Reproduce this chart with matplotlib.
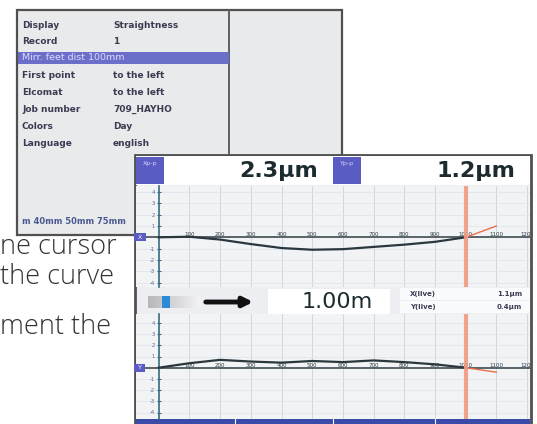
import numpy as np
import matplotlib.pyplot as plt
from matplotlib.patches import Rectangle

# Measured profile, position along the beam (mm) vs deviation (um)
pos_mm = [0, 100, 200, 300, 400, 500, 600, 700, 800, 900, 1000]
x_dev = [0, 0.05, -0.2, -0.6, -0.95, -1.1, -1.05, -0.85, -0.65, -0.4, 0]
y_dev = [0, 0.4, 0.7, 0.55, 0.45, 0.6, 0.5, 0.65, 0.5, 0.3, 0]
ext_mm = [1000, 1100]
x_ext = [0, 1.0]
y_ext = [0, -0.4]
cursor_mm = 1000
x_ticks = [100, 200, 300, 400, 500, 600, 700, 800, 900, 1000, 1100, 1200]
y_ticks = [-4, -3, -2, -1, 1, 2, 3, 4]

menu_labels = ['Display', 'Record', '', 'First point', 'Elcomat', 'Job number', 'Colors', 'Language']
menu_values = ['Straightness', '1', '', 'to the left', 'to the left', '709_HAYHO', 'Day', 'english']
highlight_text = 'Mirr. feet dist 100mm'

xpp_value = '2.3\u00b5m'
ypp_value = '1.2\u00b5m'
distance = '1.00m'
live_labels = ['X(live)', 'Y(live)']
live_values = ['1.1\u00b5m', '0.4\u00b5m']
side_text = ['ne cursor', 'the curve', 'ment the']

W, H = 537, 424
fig = plt.figure(figsize=(W / 100, H / 100), dpi=100)
fig.patch.set_facecolor('white')

# base layer in pixel coordinates
ax = fig.add_axes([0, 0, 1, 1])
ax.set_xlim(0, W)
ax.set_ylim(H, 0)
ax.axis('off')

dark = '#3b3b52'
blue = '#5a5cc4'

# back screen (settings menu)
ax.add_patch(Rectangle((17, 10), 325, 225, facecolor='#e9eaec', edgecolor='#505050', lw=1.6, zorder=1))
ax.plot([229, 229], [10, 235], color='#606060', lw=1.4, zorder=2)
ax.add_patch(Rectangle((18, 52), 211, 12, facecolor='#6c6fc9', edgecolor='none', zorder=2))
for i, (lab, val) in enumerate(zip(menu_labels, menu_values)):
    yy = 25 + 16.9 * i
    if lab:
        ax.text(22, yy, lab, fontsize=6.5, weight='bold', color=dark, va='center', zorder=3)
        ax.text(113, yy, val, fontsize=6.5, weight='bold', color=dark, va='center', zorder=3)
ax.text(22, 58, highlight_text, fontsize=6.8, color='#dcdcfa', va='center', zorder=3)
ax.text(22, 221, 'm 40mm 50mm 75mm', fontsize=6, weight='bold', color='#4a5a90', va='center', zorder=3)

# text on the page left of the screens
for txt, yy in zip(side_text, [247, 277, 327]):
    ax.text(0, yy, txt, fontsize=19.5, color='#333333', va='center', ha='left',
            family=['Open Sans', 'DejaVu Sans'], weight='light', zorder=3)

# front screen
L, R, T = 135, 531, 155
ax.add_patch(Rectangle((L, T), R - L, H - T + 5, facecolor='#eceef1', edgecolor='#505050', lw=2, zorder=5))
ax.add_patch(Rectangle((L + 1, T + 1), R - L - 2, 29, facecolor='white', edgecolor='none', zorder=6))
for x0, lab in [(136, 'Xp-p'), (333, 'Yp-p')]:
    ax.add_patch(Rectangle((x0, 157), 28, 27, facecolor=blue, edgecolor='none', zorder=7))
    ax.text(x0 + 14, 163, lab, fontsize=4.5, color='#d6d6fa', ha='center', va='center', zorder=8)
ax.text(279, 171, xpp_value, fontsize=16, weight='bold', color='#1c2b30', ha='center', va='center', zorder=8)
ax.text(476, 171, ypp_value, fontsize=16, weight='bold', color='#1c2b30', ha='center', va='center', zorder=8)

# middle band: slider, arrow, distance and live readings
grad = np.linspace(0.72, 0.95, 64).reshape(1, -1)
ax.imshow(np.dstack([grad, grad, grad * 1.01]).clip(0, 1), extent=(148, 200, 308, 296),
          aspect='auto', zorder=7)
ax.add_patch(Rectangle((162, 296), 8, 12, facecolor='#2b8ad8', edgecolor='none', zorder=8))
ax.annotate('', xy=(256, 302), xytext=(203, 302), zorder=8,
            arrowprops=dict(arrowstyle='-|>', lw=3.5, color='#111111', mutation_scale=14))
ax.add_patch(Rectangle((268, 289), 122, 26, facecolor='white', edgecolor='none', zorder=7))
ax.text(337, 302, distance, fontsize=16, color='#1c2b30', ha='center', va='center', zorder=8)
for i, (lab, val) in enumerate(zip(live_labels, live_values)):
    yy = 294 + 13 * i
    ax.add_patch(Rectangle((400, yy - 6), 130, 12, facecolor='#fafbfc', edgecolor='none', zorder=7))
    ax.text(410, yy, lab, fontsize=5, weight='bold', color=dark, va='center', zorder=8)
    ax.text(522, yy, val, fontsize=5, weight='bold', color=dark, va='center', ha='right', zorder=8)

# footer soft keys
ax.add_patch(Rectangle((136, 419), 394, 6, facecolor='#3a4aa8', edgecolor='none', zorder=7))
for xs in [235, 333, 435]:
    ax.plot([xs, xs], [419, 424], color='white', lw=0.8, zorder=8)

ax.set_xlim(0, W)
ax.set_ylim(H, 0)

# plot panels: pixel anchors of the scales (x: 0 mm at 158.7 px, 30.7 px per 100 mm)
def add_plot(y_top, y_bot, y_zero, px_per_um, dev, ext, tag):
    x0, x1 = 136, 530
    a = fig.add_axes([x0 / W, 1 - y_bot / H, (x1 - x0) / W, (y_bot - y_top) / H])
    a.set_xlim((x0 - 158.7) / 0.307, (x1 - 158.7) / 0.307)
    a.set_ylim((y_zero - y_bot) / px_per_um, (y_zero - y_top) / px_per_um)
    a.set_facecolor('#f2f3f5')
    for s in ['top', 'right', 'bottom']:
        a.spines[s].set_visible(False)
    a.spines['left'].set_position(('data', 0))
    a.spines['left'].set_color('#3a6a80')
    a.spines['left'].set_linewidth(1.2)
    a.set_yticks(y_ticks)
    a.set_yticklabels([str(v) for v in y_ticks])
    a.tick_params(axis='y', labelsize=3.8, labelcolor='#5a6a9a', color='#3a6a80',
                  direction='inout', length=3, pad=1)
    a.set_xticks([])
    for xv in x_ticks:
        a.axvline(xv, color='#c7d3e1', lw=0.6, zorder=0)
    for yv in y_ticks:
        a.axhline(yv, color='#dde3eb', lw=0.5, zorder=0)
    a.axhline(0, color='#2e3d44', lw=1.1, zorder=2)
    for xv in x_ticks:
        a.text(xv, 0, str(xv), fontsize=4, color='#2e3d44', ha='center', va='bottom', zorder=3, clip_on=True)
    a.plot(pos_mm, dev, color='#2a383e', lw=1.6, zorder=4)
    a.plot(ext_mm, ext, color='#e8704a', lw=1.0, zorder=4)
    a.axvline(cursor_mm, color='#f29b80', lw=3, alpha=0.9, zorder=5)
    # axis tag
    a.text(0.0, 0, ' ' + tag + ' ', transform=a.get_yaxis_transform(), fontsize=4.5, color='white',
           ha='left', va='center', zorder=6,
           bbox=dict(boxstyle='square,pad=0.25', facecolor=blue, edgecolor='none'))
    return a

add_plot(186, 287, 237.3, 11.3, x_dev, x_ext, 'X')
add_plot(314, 419, 367.7, 11.2, y_dev, y_ext, 'Y')

fig.savefig('out.png', dpi=100)
